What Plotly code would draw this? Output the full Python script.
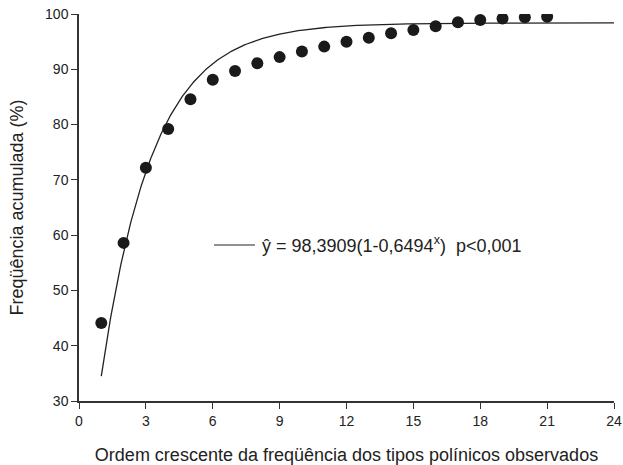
import plotly.graph_objects as go

# observed cumulative frequency (%)
ordem = list(range(1, 22))
freq_acumulada = [44.1, 58.6, 72.2, 79.2, 84.6, 88.1, 89.7, 91.1, 92.2, 93.2, 94.1,
                  95.0, 95.7, 96.5, 97.1, 97.8, 98.5, 98.9, 99.2, 99.4, 99.5]

# fitted model parameters (from the equation shown on the chart)
a_param = 98.3909
b_param = 0.6494
curve_x = [1 + i * 0.05 for i in range(int((24 - 1) / 0.05) + 1)]
curve_y = [a_param * (1 - b_param ** x) for x in curve_x]

x_ticks = [0, 3, 6, 9, 12, 15, 18, 21, 24]
y_ticks = [30, 40, 50, 60, 70, 80, 90, 100]

font_family = "Liberation Sans, Arial, sans-serif"
ink = "#222222"

fig = go.Figure()
fig.add_trace(go.Scatter(x=curve_x, y=curve_y, mode="lines",
                         line=dict(color=ink, width=1.3), showlegend=False,
                         hoverinfo="skip"))
fig.add_trace(go.Scatter(x=ordem, y=freq_acumulada, mode="markers",
                         marker=dict(color="#1a1a1a", size=12), showlegend=False))

fig.update_layout(
    width=623, height=465,
    margin=dict(l=79, r=9, t=14, b=64, autoexpand=False),
    paper_bgcolor="white", plot_bgcolor="white",
    font=dict(family=font_family, color=ink, size=14),
    xaxis=dict(range=[0, 24], tickvals=x_ticks, showgrid=False, zeroline=False,
               automargin=False, ticklabeloverflow="allow",
               showline=True, linecolor="#333333", linewidth=1.5,
               ticks="outside", ticklen=6, tickcolor="#333333", tickwidth=1.2,
               tickfont=dict(size=14),
               title=dict(text="Ordem crescente da freqüência dos tipos polínicos observados",
                          font=dict(size=18), standoff=21)),
    yaxis=dict(range=[30, 100], tickvals=y_ticks, showgrid=False, zeroline=False,
               automargin=False, ticklabeloverflow="allow",
               showline=True, linecolor="#333333", linewidth=1.5,
               ticks="outside", ticklen=6, tickcolor="#333333", tickwidth=1.2,
               tickfont=dict(size=14),
               title=dict(text="Freqüência acumulada (%)", font=dict(size=18), standoff=17)),
)

# equation legend
fig.add_shape(type="line", xref="paper", yref="paper",
              x0=(214 - 79) / 535, x1=(255 - 79) / 535,
              y0=(401 - 245) / 387, y1=(401 - 245) / 387,
              line=dict(color=ink, width=1.2))
fig.add_annotation(xref="paper", yref="paper",
                   x=(260 - 79) / 535, y=(401 - 245) / 387,
                   xanchor="left", yanchor="middle", showarrow=False,
                   text="ŷ = 98,3909(1-0,6494<sup>x</sup>)  p<0,001",
                   font=dict(size=18, color=ink, family=font_family))

fig.write_html("out.html", config={"displayModeBar": False},
               post_script="document.body.style.margin='0px';document.body.style.overflow='hidden';")
